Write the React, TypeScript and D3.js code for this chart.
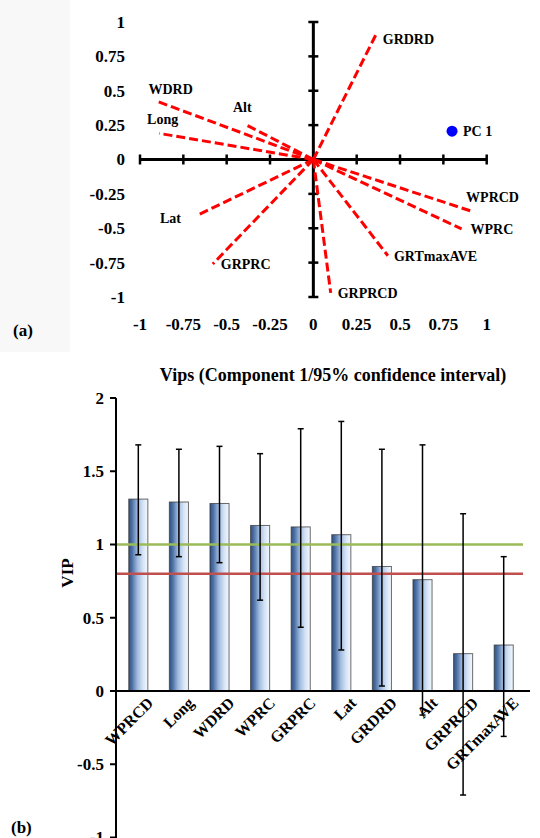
import React from 'react';
import * as d3 from 'd3';

// (a) loadings plot
const pcaVars = ['GRDRD', 'WDRD', 'Alt', 'Long', 'Lat', 'GRPRC', 'GRPRCD', 'GRTmaxAVE', 'WPRC', 'WPRCD'];
const pcaX = [0.36, -0.905, -0.4, -0.89, -0.66, -0.58, 0.1, 0.43, 0.855, 0.91];
const pcaY = [0.905, 0.425, 0.26, 0.19, -0.4, -0.76, -0.97, -0.7, -0.505, -0.375];
const pcPoint = { name: 'PC 1', x: 0.8, y: 0.206 };
const pcaTicks = [-1, -0.75, -0.5, -0.25, 0, 0.25, 0.5, 0.75, 1];

// (b) VIP bars
const vipCats = ['WPRCD', 'Long', 'WDRD', 'WPRC', 'GRPRC', 'Lat', 'GRDRD', 'Alt', 'GRPRCD', 'GRTmaxAVE'];
const vipVals = [1.31, 1.29, 1.28, 1.13, 1.12, 1.067, 0.85, 0.76, 0.255, 0.314];
const vipHi = [1.68, 1.65, 1.67, 1.62, 1.79, 1.84, 1.65, 1.68, 1.21, 0.917];
const vipLo = [0.93, 0.917, 0.876, 0.62, 0.435, 0.28, 0.034, -0.164, -0.71, -0.31];
const vipTicks = [-1, -0.5, 0, 0.5, 1, 1.5, 2];
const refLines = [{ v: 1, color: '#9bbb59' }, { v: 0.8, color: '#c0504d' }];

// label offsets (px) from each vector's end
const labelOffset: Record<string, [number, number]> = {
  GRDRD: [7, 9],
  WDRD: [-8, -7],
  Alt: [-11, -12],
  Long: [-12, -9],
  Lat: [-39, 8],
  GRPRC: [8, 5],
  GRPRCD: [7, 5],
  GRTmaxAVE: [6, 5],
  WPRC: [9, 5],
  WPRCD: [-5, -9],
};

const font = '"Liberation Serif", "Times New Roman", serif';

export default function App() {
  const xA = d3.scaleLinear().domain([-1, 1]).range([140, 486.7]);
  const yA = d3.scaleLinear().domain([-1, 1]).range([297, 22]);
  const ox = xA(0);
  const oy = yA(0);

  const xB = d3.scaleBand().domain(vipCats).range([118, 524]).paddingInner(0.53).paddingOuter(0.265);
  const yB = d3.scaleLinear().domain([-1, 2]).range([837.5, 398]);
  const bw = xB.bandwidth();

  return (
    <svg width={540} height={838} style={{ position: 'absolute', left: 0, top: 0, background: '#fff' }}
      fontFamily={font} fontWeight="bold">
      <defs>
        <linearGradient id="barGrad" x1="0" x2="1" y1="0" y2="0">
          <stop offset="0" stopColor="#2e4f80" />
          <stop offset="0.18" stopColor="#4f72a6" />
          <stop offset="0.45" stopColor="#9fbade" />
          <stop offset="0.75" stopColor="#d6e4f6" />
          <stop offset="1" stopColor="#f3f8fe" />
        </linearGradient>
      </defs>
      <rect x={0} y={0} width={70} height={352} fill="#f8f8f8" />

      {/* ---------- (a) ---------- */}
      <line x1={xA(-1)} x2={xA(1)} y1={oy} y2={oy} stroke="#000" strokeWidth={3} />
      <line x1={ox} x2={ox} y1={yA(1)} y2={yA(-1)} stroke="#000" strokeWidth={3} />
      {pcaTicks.map(t => (
        <g key={'ta' + t}>
          <line x1={xA(t)} x2={xA(t)} y1={oy - 5} y2={oy + 5} stroke="#000" strokeWidth={2.5} />
          <line x1={ox - 5} x2={ox + 5} y1={yA(t)} y2={yA(t)} stroke="#000" strokeWidth={2.5} />
          <text x={xA(t)} y={330} textAnchor="middle" fontSize={17}>{String(t)}</text>
          <text x={125} y={yA(t)} dy="0.35em" textAnchor="end" fontSize={17}>{String(t)}</text>
        </g>
      ))}
      {pcaVars.map((v, i) => {
        const ex = xA(pcaX[i]);
        const ey = yA(pcaY[i]);
        const [dx, dy] = labelOffset[v];
        return (
          <g key={v}>
            <line x1={ox} y1={oy} x2={ex} y2={ey} stroke="#ff0000" strokeWidth={3} strokeDasharray="9 4" />
            <text x={ex + dx} y={ey + dy} fontSize={14}>{v}</text>
          </g>
        );
      })}
      <circle cx={xA(pcPoint.x)} cy={yA(pcPoint.y)} r={5.5} fill="#0000ff" />
      <text x={xA(pcPoint.x) + 11} y={yA(pcPoint.y)} dy="0.35em" fontSize={14}>{pcPoint.name}</text>
      <text x={13} y={336} fontSize={17}>(a)</text>

      {/* ---------- (b) ---------- */}
      <text x={333} y={381} textAnchor="middle" fontSize={18}>Vips (Component 1/95% confidence interval)</text>
      <text transform={`translate(67,573) rotate(-90)`} textAnchor="middle" dy="0.35em" fontSize={17}>VIP</text>

      {vipCats.map((c, i) => (
        <rect key={'bar' + c} x={xB(c)} y={yB(vipVals[i])} width={bw} height={yB(0) - yB(vipVals[i])}
          fill="url(#barGrad)" stroke="#3a3a3a" strokeOpacity={0.75} strokeWidth={1} />
      ))}
      {refLines.map(r => (
        <line key={'ref' + r.v} x1={116} x2={523} y1={yB(r.v)} y2={yB(r.v)} stroke={r.color} strokeWidth={2.5} />
      ))}
      {vipCats.map((c, i) => {
        const cx = (xB(c) as number) + bw / 2;
        return (
          <g key={'err' + c} stroke="#000" strokeWidth={1.5}>
            <line x1={cx} x2={cx} y1={yB(vipHi[i])} y2={yB(vipLo[i])} />
            <line x1={cx - 3} x2={cx + 3} y1={yB(vipHi[i])} y2={yB(vipHi[i])} />
            <line x1={cx - 3} x2={cx + 3} y1={yB(vipLo[i])} y2={yB(vipLo[i])} />
          </g>
        );
      })}

      <line x1={116} x2={116} y1={yB(2)} y2={838} stroke="#000" strokeWidth={2} />
      <line x1={111} x2={530} y1={yB(0)} y2={yB(0)} stroke="#000" strokeWidth={2} />
      {vipTicks.map(t => (
        <g key={'tb' + t}>
          <line x1={110} x2={116} y1={yB(t)} y2={yB(t)} stroke="#000" strokeWidth={2} />
          <text x={104} y={yB(t)} dy="0.35em" textAnchor="end" fontSize={17}>{String(t)}</text>
        </g>
      ))}
      {vipCats.map(c => {
        const cx = (xB(c) as number) + bw / 2;
        return (
          <text key={'lab' + c} transform={`translate(${cx + 12},${yB(0) + 9}) rotate(-45)`}
            textAnchor="end" dy="0.35em" fontSize={16}>{c}</text>
        );
      })}
      <text x={11} y={833} fontSize={17}>(b)</text>
    </svg>
  );
}
